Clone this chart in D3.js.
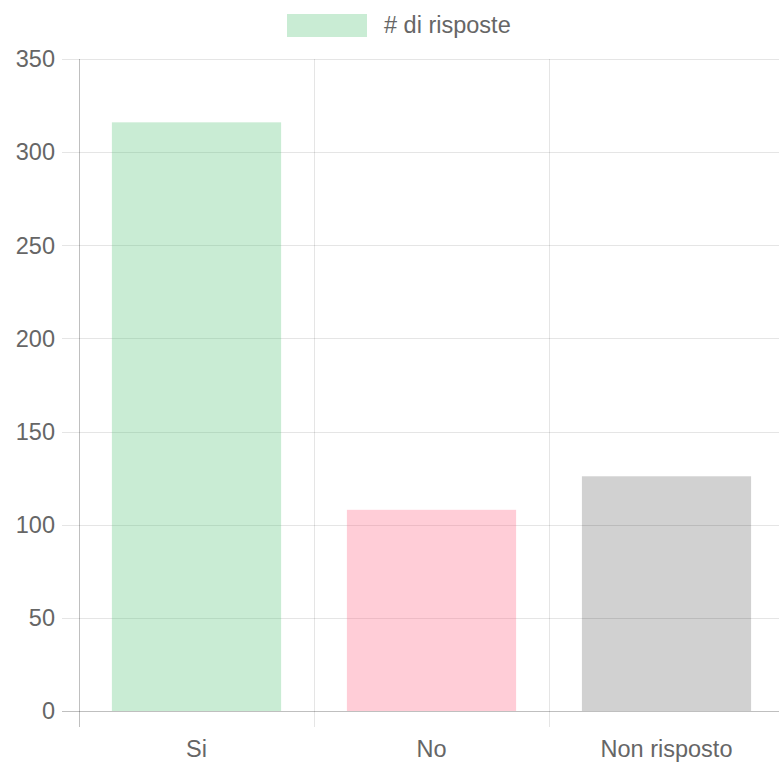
<!DOCTYPE html>
<html>
<head>
<meta charset="utf-8">
<script src="https://cdn.jsdelivr.net/npm/d3@7"></script>
<style>
  body { margin: 0; background: #fff; }
  svg { display: block; font-family: "Liberation Sans", Arial, sans-serif; }
</style>
</head>
<body>
<svg id="chart" width="779" height="762"></svg>
<script>
// data
var categories = ["Si", "No", "Non risposto"];
var values = [316, 108, 126];
var barColors = ["rgba(75,192,112,0.3)", "rgba(255,99,132,0.32)", "rgba(0,0,0,0.18)"];
var yTicks = [0, 50, 100, 150, 200, 250, 300, 350];
var seriesName = "# di risposte";

var svg = d3.select("#chart"),
    width = +svg.attr("width"),
    height = +svg.attr("height");

var plotLeft = 79, plotRight = 784, plotTop = 59, plotBottom = 711;
var gridColor = "rgba(0,0,0,0.1)";
var textColor = "#666";
var fontSize = "23.5px";

var x = d3.scaleBand().domain(categories).range([plotLeft, plotRight]);
var y = d3.scaleLinear().domain([0, 350]).range([plotBottom, plotTop]);

// horizontal grid lines (with the little tick on the left)
svg.append("g").selectAll("line")
  .data(yTicks)
  .enter().append("line")
  .attr("x1", plotLeft - 17)
  .attr("x2", width)
  .attr("y1", function(d) { return Math.round(y(d)) + 0.5; })
  .attr("y2", function(d) { return Math.round(y(d)) + 0.5; })
  .attr("stroke", function(d) { return d == 0 ? "rgba(0,0,0,0.25)" : gridColor; })
  .attr("stroke-width", 1);

// vertical grid lines between categories
var vLines = categories.map(function(c) { return x(c); }).concat([plotRight]);
svg.append("g").selectAll("line")
  .data(vLines)
  .enter().append("line")
  .attr("x1", function(d) { return Math.round(d) + 0.5; })
  .attr("x2", function(d) { return Math.round(d) + 0.5; })
  .attr("y1", plotTop)
  .attr("y2", plotBottom + 16)
  .attr("stroke", function(d, i) { return i == 0 ? "rgba(0,0,0,0.25)" : gridColor; })
  .attr("stroke-width", 1);

// bars
var barW = x.bandwidth() * 0.72;
svg.append("g").selectAll("rect")
  .data(values)
  .enter().append("rect")
  .attr("x", function(d, i) { return x(categories[i]) + (x.bandwidth() - barW) / 2; })
  .attr("width", barW)
  .attr("y", function(d) { return y(d); })
  .attr("height", function(d) { return y(0) - y(d); })
  .attr("fill", function(d, i) { return barColors[i]; });

// y tick labels
svg.append("g").selectAll("text")
  .data(yTicks)
  .enter().append("text")
  .attr("x", 55)
  .attr("y", function(d) { return y(d); })
  .attr("dy", "0.35em")
  .attr("text-anchor", "end")
  .attr("fill", textColor)
  .style("font-size", fontSize)
  .text(function(d) { return d; });

// x tick labels
svg.append("g").selectAll("text")
  .data(categories)
  .enter().append("text")
  .attr("x", function(d) { return x(d) + x.bandwidth() / 2; })
  .attr("y", 757)
  .attr("text-anchor", "middle")
  .attr("fill", textColor)
  .style("font-size", fontSize)
  .text(function(d) { return d; });

// legend
var legend = svg.append("g");
legend.append("rect")
  .attr("x", 287).attr("y", 14)
  .attr("width", 80).attr("height", 23)
  .attr("fill", barColors[0]);
legend.append("text")
  .attr("x", 384).attr("y", 25)
  .attr("dy", "0.35em")
  .attr("fill", textColor)
  .style("font-size", fontSize)
  .text(seriesName);
</script>
</body>
</html>
